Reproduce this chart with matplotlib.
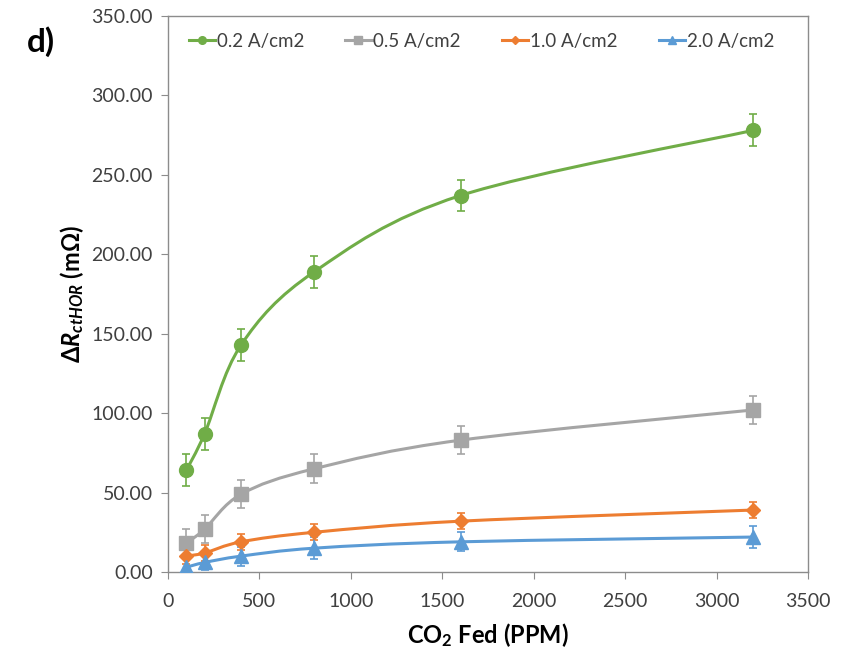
import matplotlib
matplotlib.use('Agg')
import matplotlib.pyplot as plt
from matplotlib.path import Path
from matplotlib.patches import PathPatch
from matplotlib.lines import Line2D
import numpy as np

plt.rcParams['font.family'] = ['Lato', 'DejaVu Sans']
plt.rcParams['mathtext.fontset'] = 'custom'
plt.rcParams['mathtext.rm'] = 'Lato:bold'
plt.rcParams['mathtext.it'] = 'Lato:bold:italic'
plt.rcParams['mathtext.bf'] = 'Lato:bold'

# CO2 Fed (PPM)
co2_fed = [100, 200, 400, 800, 1600, 3200]

# delta R_ctHOR (mOhm) pro Stromdichte
r_02 = [64, 87, 143, 189, 237, 278]
r_05 = [18, 27, 49, 65, 83, 102]
r_10 = [10, 12, 19, 25, 32, 39]
r_20 = [3, 6, 10, 15, 19, 22]

err_02 = [10, 10, 10, 10, 10, 10]
err_05 = [9, 9, 9, 9, 9, 9]
err_10 = [5, 5, 5, 5, 5, 5]
err_20 = [6, 5, 6, 7, 6, 7]

labels = ['0.2 A/cm2', '0.5 A/cm2', '1.0 A/cm2', '2.0 A/cm2']
farben = ['#70AD47', '#A5A5A5', '#ED7D31', '#5B9BD5']
marker = ['o', 's', 'D', '^']
msize = [10, 10, 7.5, 10]


def glatte_linie(x, y, tension=0.5 / 3):
    # Excel-artige geglaettete Linie als Bezier-Pfad
    x = np.asarray(x, float)
    y = np.asarray(y, float)
    verts = [(x[0], y[0])]
    codes = [Path.MOVETO]
    n = len(x)
    for i in range(n - 1):
        i0 = max(i - 1, 0)
        i3 = min(i + 2, n - 1)
        c1 = (x[i] + (x[i + 1] - x[i0]) * tension, y[i] + (y[i + 1] - y[i0]) * tension)
        c2 = (x[i + 1] - (x[i3] - x[i]) * tension, y[i + 1] - (y[i3] - y[i]) * tension)
        verts += [c1, c2, (x[i + 1], y[i + 1])]
        codes += [Path.CURVE4] * 3
    return Path(verts, codes)


fig = plt.figure(figsize=(8.43, 6.58), dpi=100)
ax = fig.add_axes([0.1993, 0.1307, 0.7592, 0.845])

reihen = [r_02, r_05, r_10, r_20]
fehler = [err_02, err_05, err_10, err_20]
handles = []
for werte, err, farbe, m, ms, lab in zip(reihen, fehler, farben, marker, msize, labels):
    ax.add_patch(PathPatch(glatte_linie(co2_fed, werte), facecolor='none',
                           edgecolor=farbe, linewidth=2.2, zorder=2))
    ax.errorbar(co2_fed, werte, yerr=err, fmt=m, color=farbe, markersize=ms,
                ecolor=farbe, elinewidth=1.2, capsize=3, capthick=1.2, zorder=3)
    handles.append(Line2D([], [], color=farbe, marker=m, markersize=ms * 0.55,
                          linewidth=2.2, label=lab))

ax.set_xlim(0, 3500)
ax.set_ylim(0, 350)
ax.set_xticks(np.arange(0, 3501, 500))
ax.set_yticks(np.arange(0, 351, 50))
ax.set_yticklabels(['%.2f' % v for v in np.arange(0, 351, 50)])

for s in ax.spines.values():
    s.set_color('#8c8c8c')
    s.set_linewidth(1.0)
ax.tick_params(direction='out', length=5, color='#8c8c8c', labelsize=14,
               labelcolor='#404040')
ax.tick_params(axis='x', pad=10)
ax.tick_params(axis='y', pad=6)

ax.set_xlabel('CO$_2$ Fed (PPM)', fontsize=17, fontweight='bold', labelpad=8)
ax.set_ylabel(r'$\mathit{\Delta R_{ctHOR}}$ (m$\Omega$)', fontsize=17,
              fontweight='bold', labelpad=4)

ax.legend(handles=handles, loc='upper center', ncol=4, frameon=False,
          fontsize=13.5, handlelength=1.4, handletextpad=0.1, columnspacing=2.2,
          bbox_to_anchor=(0.49, 1.0), labelcolor='#404040')

fig.text(0.032, 0.921, 'd)', fontsize=24, fontweight='bold', color='black')

plt.savefig('out.png', dpi=100)
